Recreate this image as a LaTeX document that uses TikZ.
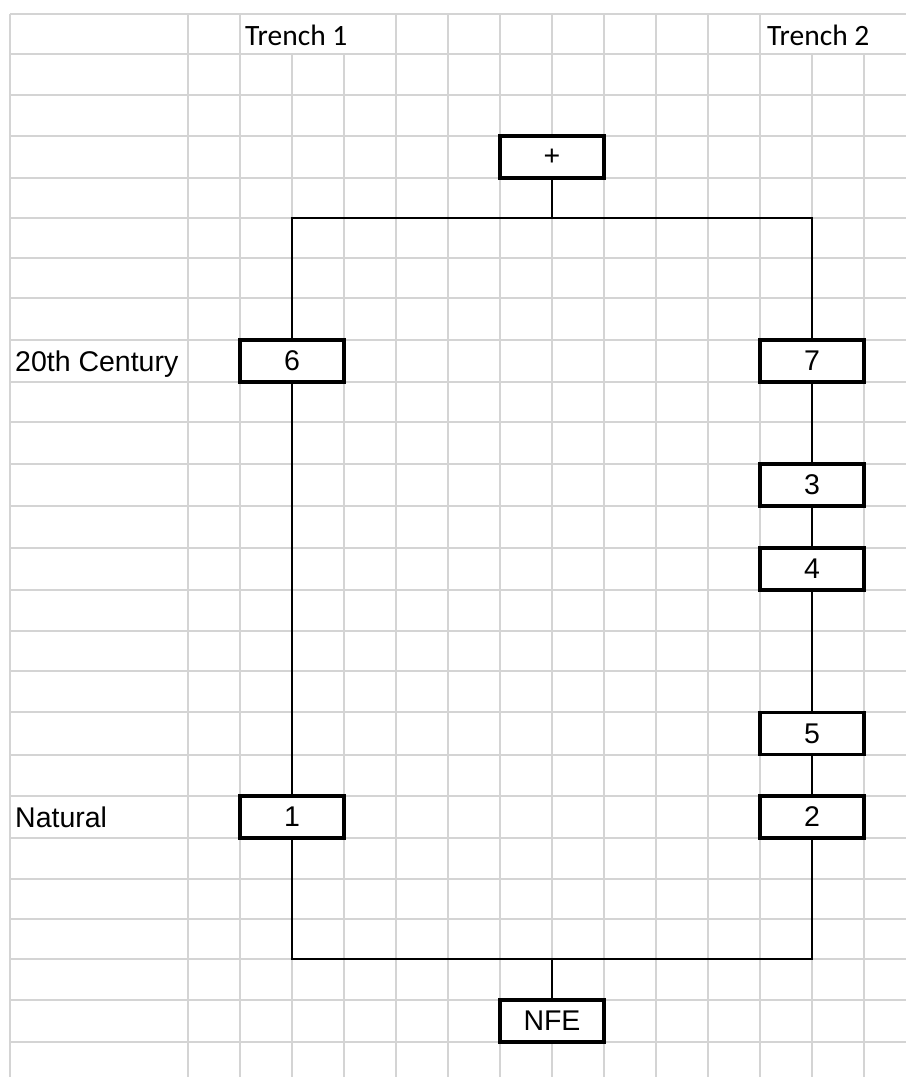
\documentclass[tikz,border=0pt]{standalone}
\usepackage{fontspec}
\setmainfont{Liberation Sans}
\newfontfamily\calibri{Carlito}
\definecolor{gridgray}{RGB}{212,212,212}
\tikzset{
  gridline/.style={draw=gridgray, line width=1.7pt},
  boxnode/.style={draw=black, fill=white, line width=3.2pt, minimum width=104pt, minimum height=42pt, inner sep=0pt, font=\fontsize{28.5}{30}\selectfont},
  conn/.style={draw=black, line width=2pt},
  rowlab/.style={anchor=base west, inner sep=0pt, font=\fontsize{28.5}{30}\selectfont},
  headlab/.style={anchor=base west, inner sep=0pt, font=\calibri\fontsize{29.5}{31}\selectfont},
}
\begin{document}
\begin{tikzpicture}[x=1pt, y=-1pt]
\useasboundingbox (0,0) rectangle (906,1077);
% grid: horizontal lines
\foreach \yy in {14,54,95,136,178,218,258,298,340,382,422,464,506,548,590,631,671,712,755,796,838,879,919,959,1000,1042}
  \draw[gridline] (10,\yy) -- (906,\yy);
% grid: vertical lines (full height)
\foreach \xx in {10,188,240,396,448,500,552,604,656,708,760}
  \draw[gridline] (\xx,14) -- (\xx,1077);
% vertical lines interrupted by header texts
\foreach \xx in {292,344,812,864}
  \draw[gridline] (\xx,54) -- (\xx,1077);
% header labels
\node[headlab] (t1) at (245,45) {Trench 1};
\node[headlab] (t2) at (767,45) {Trench 2};
% row labels
\node[rowlab] (c20) at (15,371.5) {20th Century};
\node[rowlab] (nat) at (15,827) {Natural};
% boxes
\node[boxnode] (plus) at (552,157) {+};
\node[boxnode] (six) at (292,361) {6};
\node[boxnode] (seven) at (812,361) {7};
\node[boxnode] (three) at (812,485) {3};
\node[boxnode] (four) at (812,569) {4};
\node[boxnode] (five) at (812,733.5) {5};
\node[boxnode] (one) at (292,817) {1};
\node[boxnode] (two) at (812,817) {2};
\node[boxnode] (nfe) at (552,1021) {NFE};
% junctions
\coordinate (tj) at (552,218);
\coordinate (bj) at (552,958.5);
% connectors
\draw[conn] (plus.south) -- (tj);
\draw[conn] (six.north) |- (tj) -| (seven.north);
\draw[conn] (six) -- (one);
\draw[conn] (seven) -- (three);
\draw[conn] (three) -- (four);
\draw[conn] (four) -- (five);
\draw[conn] (five) -- (two);
\draw[conn] (one.south) |- (bj) -| (two.south);
\draw[conn] (bj) -- (nfe.north);
\end{tikzpicture}
\end{document}
